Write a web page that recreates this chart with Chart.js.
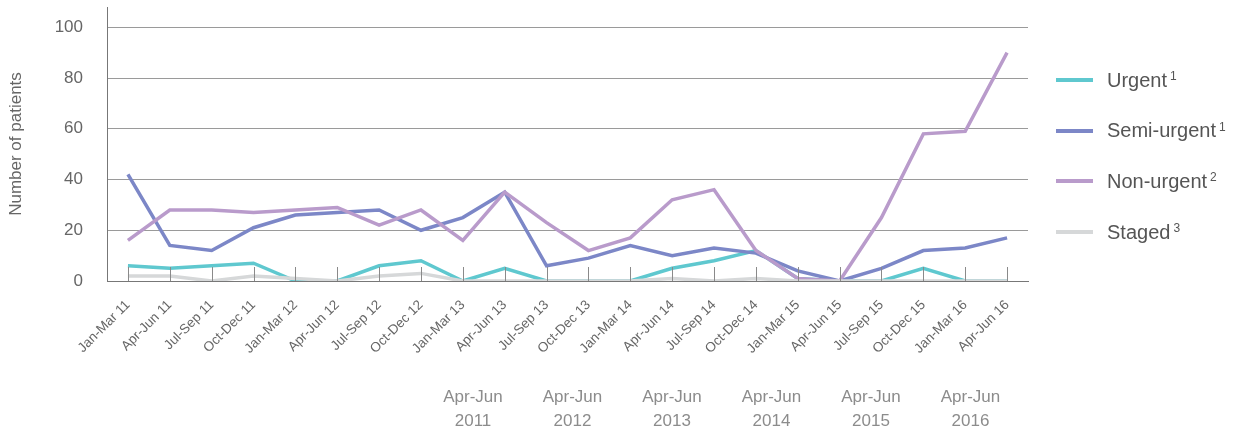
<!DOCTYPE html>
<html>
<head>
<meta charset="utf-8">
<script src="https://cdn.jsdelivr.net/npm/chart.js@4.4.0/dist/chart.umd.min.js"></script>
<style>
  body { margin: 0; background: #fff; }
  .wrap { position: relative; width: 1237px; height: 434px; }
  #legend { position: absolute; left: 1056px; top: 0; font-family: 'Liberation Sans', Arial, sans-serif; color: #555; }
  .item { position: absolute; left: 0; height: 24px; display: flex; align-items: center; white-space: nowrap; font-size: 20px; }
  .sw { width: 37px; height: 4px; margin-right: 14px; }
  .item sup { font-size: 12px; margin-left: 3px; position: relative; top: -4px; }
</style>
</head>
<body>
<div class="wrap">
  <canvas id="chartbox" width="1237" height="434"></canvas>
  <div id="legend"></div>
</div>
<script>
// data
const labels = ['Jan-Mar 11', 'Apr-Jun 11', 'Jul-Sep 11', 'Oct-Dec 11', 'Jan-Mar 12', 'Apr-Jun 12',
  'Jul-Sep 12', 'Oct-Dec 12', 'Jan-Mar 13', 'Apr-Jun 13', 'Jul-Sep 13', 'Oct-Dec 13', 'Jan-Mar 14',
  'Apr-Jun 14', 'Jul-Sep 14', 'Oct-Dec 14', 'Jan-Mar 15', 'Apr-Jun 15', 'Jul-Sep 15', 'Oct-Dec 15',
  'Jan-Mar 16', 'Apr-Jun 16']
const urgent = [6, 5, 6, 7, 0, 0, 6, 8, 0, 5, 0, 0, 0, 5, 8, 12, 1, 0, 0, 5, 0, 0]
const semiUrgent = [42, 14, 12, 21, 26, 27, 28, 20, 25, 35, 6, 9, 14, 10, 13, 11, 4, 0, 5, 12, 13, 17]
const nonUrgent = [16, 28, 28, 27, 28, 29, 22, 28, 16, 35, 23, 12, 17, 32, 36, 12, 1, 0, 25, 58, 59, 90]
const staged = [2, 2, 0, 2, 1, 0, 2, 3, 0, 0, 0, 0, 0, 1, 0, 1, 0, 0, 0, 0, 0, 0]
const yTicks = [0, 20, 40, 60, 80, 100]
const periodLabels = [['Apr-Jun', '2011'], ['Apr-Jun', '2012'], ['Apr-Jun', '2013'],
  ['Apr-Jun', '2014'], ['Apr-Jun', '2015'], ['Apr-Jun', '2016']]

const series = [
  { label: 'Urgent', sup: '1', data: urgent, color: '#5fc8cf', order: 3 },
  { label: 'Semi-urgent', sup: '1', data: semiUrgent, color: '#7c87c7', order: 2 },
  { label: 'Non-urgent', sup: '2', data: nonUrgent, color: '#b99bcb', order: 1 },
  { label: 'Staged', sup: '3', data: staged, color: '#d6d8d9', order: 0 }
]

const FONT = "'Liberation Sans', Arial, sans-serif"

// little inward tick marks on the x axis + the period labels under the chart
const extras = {
  id: 'extras',
  afterDatasetsDraw(chart) {
    const { ctx, scales: { x }, chartArea } = chart
    ctx.save()
    ctx.strokeStyle = '#8a8a8a'
    ctx.lineWidth = 1
    labels.forEach((l, i) => {
      const px = Math.round(x.getPixelForValue(i)) + 0.5
      ctx.beginPath()
      ctx.moveTo(px, chartArea.bottom - 14)
      ctx.lineTo(px, chartArea.bottom)
      ctx.stroke()
    })
    ctx.restore()
  },
  afterDraw(chart) {
    const { ctx } = chart
    ctx.save()
    ctx.fillStyle = '#8c8c8c'
    ctx.font = '17px ' + FONT
    ctx.textAlign = 'center'
    ctx.textBaseline = 'middle'
    periodLabels.forEach((p, i) => {
      const cx = 473 + i * 99.5
      ctx.fillText(p[0], cx, 397)
      ctx.fillText(p[1], cx, 421)
    })
    ctx.restore()
  }
}

new Chart(document.querySelector('#chartbox'), {
  type: 'line',
  data: {
    labels,
    datasets: series.map(s => ({
      label: s.label,
      data: s.data,
      borderColor: s.color,
      backgroundColor: s.color,
      borderWidth: 3.5,
      pointRadius: 0,
      tension: 0,
      order: s.order
    }))
  },
  options: {
    responsive: false,
    animation: false,
    layout: { padding: { top: 7, right: 209, bottom: 0, left: 0 } },
    plugins: { legend: { display: false }, tooltip: { enabled: false } },
    scales: {
      x: {
        offset: true,
        grid: { display: false },
        border: { color: '#777', width: 1 },
        ticks: {
          color: '#666',
          font: { family: FONT, size: 13.5 },
          minRotation: 45,
          maxRotation: 45,
          padding: 8,
          autoSkip: false
        },
        afterFit(scale) {
          scale.height = 153
          scale.paddingLeft = 0
          scale.paddingRight = 0
        }
      },
      y: {
        min: 0,
        max: 108,
        afterBuildTicks(scale) {
          scale.ticks = yTicks.map(v => ({ value: v }))
        },
        grid: {
          color: ctx => (ctx.tick && ctx.tick.value === 0) ? 'rgba(0,0,0,0)' : '#9a9a9a',
          lineWidth: 1,
          drawTicks: false
        },
        border: { color: '#777', width: 1 },
        ticks: {
          color: '#666',
          font: { family: FONT, size: 17 },
          padding: 24
        },
        title: {
          display: true,
          text: 'Number of patients',
          color: '#666',
          font: { family: FONT, size: 17 },
          padding: { top: 6, bottom: 0 }
        },
        afterFit(scale) {
          scale.width = 107
          scale.paddingTop = 0
          scale.paddingBottom = 0
        }
      }
    }
  },
  plugins: [extras]
})

// html legend so the footnote marks can be superscripts
const legend = document.querySelector('#legend')
series.forEach((s, i) => {
  const row = document.createElement('div')
  row.className = 'item'
  row.style.top = (80 + i * 50.7 - 12) + 'px'
  row.innerHTML = `<span class="sw" style="background:${s.color}"></span>${s.label}<sup>${s.sup}</sup>`
  legend.appendChild(row)
})
</script>
</body>
</html>
